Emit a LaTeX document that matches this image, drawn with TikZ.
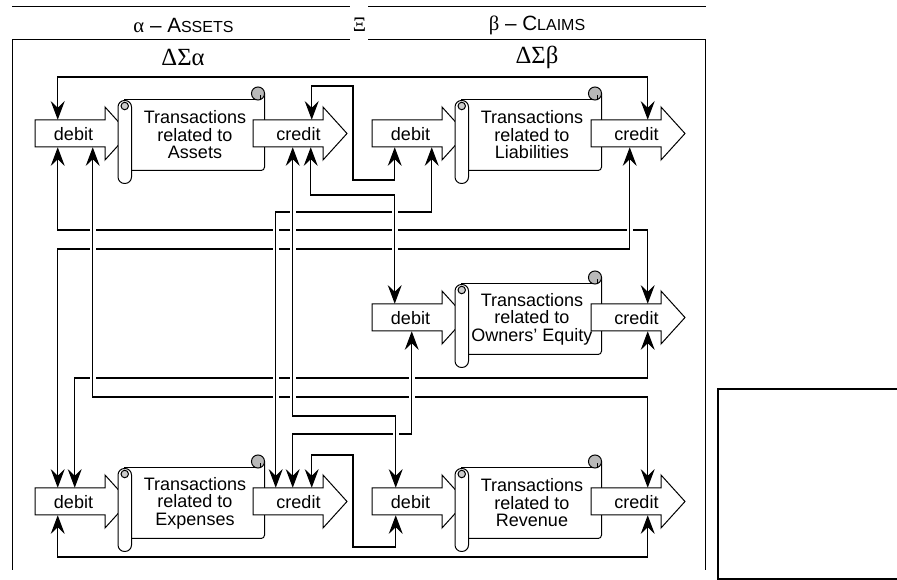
\documentclass[tikz,border=0pt]{standalone}
\usepackage{fontspec}
\setmainfont{Liberation Sans}
\newfontfamily\grk{Liberation Serif}
\usetikzlibrary{arrows.meta,calc}
\tikzset{
  shapeline/.style={draw=black, line width=0.75pt},
  conn/.style={draw=black, line width=0.8pt, <->, >={Stealth[length=14pt,width=10.5pt,inset=5pt]}},
  gapline/.style={draw=black, line width=0.8pt, preaction={draw=white, line width=4.5pt}},
  body/.style={inner sep=0pt, minimum width=52.5pt, minimum height=20.25pt},
  lbl/.style={font=\fontsize{13.5}{13.1}\selectfont, inner sep=0pt, align=center},
  hdr/.style={font=\fontsize{15.5}{18}\selectfont, inner sep=0pt},
}
% #1 name, #2 x0, #3 yc, #4 text shift, #5 text
\newcommand{\acctarrow}[5]{%
  \draw[shapeline, fill=white] (#2,#3-13.5) -- (#2+70,#3-13.5) -- (#2+70,#3-26.5) -- (#2+94,#3)
     -- (#2+70,#3+26.5) -- (#2+70,#3+13.5) -- (#2,#3+13.5) -- cycle;
  \node[body] (#1) at (#2+35,#3) {};
  \node[lbl] (#1t) at (#2+#4,#3+1) {#5};
}
% #1 name, #2 x0, #3 yc, #4 text
\newcommand{\scrollbox}[4]{%
  \fill[white] (#2+6,#3-34) rectangle (#2+146.5,#3+37);
  \draw[shapeline] (#2+6,#3-34) -- (#2+140,#3-34);
  \draw[shapeline, rounded corners=2.5pt] (#2+146.5,#3-40) -- (#2+146.5,#3+37) -- (#2+13.5,#3+37);
  \draw[shapeline, fill=gray!55] (#2+140,#3-40) circle[radius=4.9pt];
  \draw[shapeline] (#2+142.5,#3-38) -- (#2+142.5,#3-34);
  \draw[shapeline, fill=white, rounded corners=4.9pt] (#2,#3-33) rectangle (#2+13.5,#3+50);
  \draw[shapeline, fill=gray!40] (#2+6.75,#3-27.5) circle[radius=2.8pt];
  \node[lbl] (#1) at (#2+77,#3+1.5) {#4};
}
\begin{document}
\begin{tikzpicture}[x=0.75pt, y=-0.75pt]
\useasboundingbox (0,0) rectangle (897,580);

% header and frame
\draw[shapeline] (12,7) -- (350,7);
\draw[shapeline] (368,7) -- (706,7);
\draw[shapeline] (350,40) -- (12,40) -- (12,570);
\draw[shapeline] (368,40) -- (705,40) -- (705,570);
\node[hdr] (hA) at (183.5,25) {{\grk α} – A{\fontsize{12}{14}\selectfont SSETS}};
\node[hdr] (hB) at (537,25) {{\grk β} – C{\fontsize{12}{14}\selectfont LAIMS}};
\node[hdr] (hX) at (359.5,25) {\grk Ξ};
\node[font=\grk\fontsize{18.5}{20}\selectfont, inner sep=0pt] (dA) at (183,57) {ΔΣα};
\node[font=\grk\fontsize{18.5}{20}\selectfont, inner sep=0pt] (dB) at (537,57) {ΔΣβ};

% right empty box
\draw[line width=1.5pt] (899,389) -- (718,389) -- (718,579) -- (899,579);

% debit arrows
\acctarrow{ad}{35}{133.5}{38.5}{debit}
\acctarrow{ld}{372}{133.5}{38.5}{debit}
\acctarrow{od}{372}{317.5}{38.5}{debit}
\acctarrow{ed}{35}{501.5}{38.5}{debit}
\acctarrow{rd}{372}{501.5}{38.5}{debit}

% scrolls
\scrollbox{as}{118}{133.5}{Transactions\\related to\\Assets}
\scrollbox{ls}{455}{133.5}{Transactions\\related to\\Liabilities}
\scrollbox{os}{455}{317.5}{Transactions\\related to\\Owners’ Equity}
\scrollbox{es}{118}{501.5}{Transactions\\related to\\Expenses}
\scrollbox{rs}{455}{501.5}{Transactions\\related to\\Revenue}

% credit arrows
\acctarrow{ac}{253}{133.5}{45.5}{credit}
\acctarrow{lc}{591}{133.5}{45.5}{credit}
\acctarrow{oc}{591}{317.5}{45.5}{credit}
\acctarrow{ec}{253}{501.5}{45.5}{credit}
\acctarrow{rc}{591}{501.5}{45.5}{credit}

% pins
\coordinate (adT)  at ($(ad.north west)+(23,0)$);
\coordinate (adB1) at ($(ad.south west)+(23,0)$);
\coordinate (adB2) at ($(ad.south west)+(58,0)$);
\coordinate (acT)  at ($(ac.north west)+(59,0)$);
\coordinate (acB1) at ($(ac.south west)+(40,0)$);
\coordinate (acB2) at ($(ac.south west)+(58,0)$);
\coordinate (ldB1) at ($(ld.south west)+(23,0)$);
\coordinate (ldB2) at ($(ld.south west)+(60,0)$);
\coordinate (lcT)  at ($(lc.north west)+(57,0)$);
\coordinate (lcB)  at ($(lc.south west)+(39,0)$);
\coordinate (odT)  at ($(od.north west)+(23,0)$);
\coordinate (odB)  at ($(od.south west)+(40,0)$);
\coordinate (ocT)  at ($(oc.north west)+(57,0)$);
\coordinate (ocB)  at ($(oc.south west)+(57,0)$);
\coordinate (edT1) at ($(ed.north west)+(23,0)$);
\coordinate (edT2) at ($(ed.north west)+(40,0)$);
\coordinate (edB)  at ($(ed.south west)+(23,0)$);
\coordinate (ecT1) at ($(ec.north west)+(23,0)$);
\coordinate (ecT2) at ($(ec.north west)+(40,0)$);
\coordinate (ecT3) at ($(ec.north west)+(59,0)$);
\coordinate (rdT)  at ($(rd.north west)+(24,0)$);
\coordinate (rdB)  at ($(rd.south west)+(24,0)$);
\coordinate (rcT)  at ($(rc.north west)+(57,0)$);
\coordinate (rcB)  at ($(rc.south west)+(57,0)$);

% connectors
\draw[conn] (adT) |- (300,77) -| (lcT);
\draw[conn] (acT) |- (353,86) -- (353,180) -| (ldB1);
\draw[conn] (adB1) |- (300,230) -| (ocT);
\draw[conn] (lcB) |- (300,249) -| (edT1);
\draw[conn] (adB2) |- (300,397) -| (rcT);
\draw[conn] (ocB) |- (300,378) -| (edT2);
\draw[conn] (acB1) |- (350,416) -| (rdT);
\draw[conn] (ldB2) |- (350,212) -| (ecT1);
\draw[conn] (acB2) |- (350,195) -| (odT);
\draw[conn] (odB) |- (350,434) -| (ecT2);
\draw[conn] (ecT3) |- (353,455) -- (353,547) -| (rdB);
\draw[conn] (edB) |- (300,557) -| (rcB);

% line jumps (vertical segments redrawn over horizontals)
\draw[gapline] (lcB |- 0,222) -- (lcB |- 0,238);
\draw[gapline] (adB2 |- 0,222) -- (adB2 |- 0,386);
\draw[gapline] (acB1 |- 0,204) -- (acB1 |- 0,405);
\draw[gapline] (rdT |- 0,426) -- (rdT |- 0,442);
\draw[gapline] (ecT1 |- 0,222) -- (ecT1 |- 0,405);
\draw[gapline] (odT |- 0,204) -- (odT |- 0,257);
\draw[gapline] (odB |- 0,370) -- (odB |- 0,405);
\end{tikzpicture}
\end{document}
